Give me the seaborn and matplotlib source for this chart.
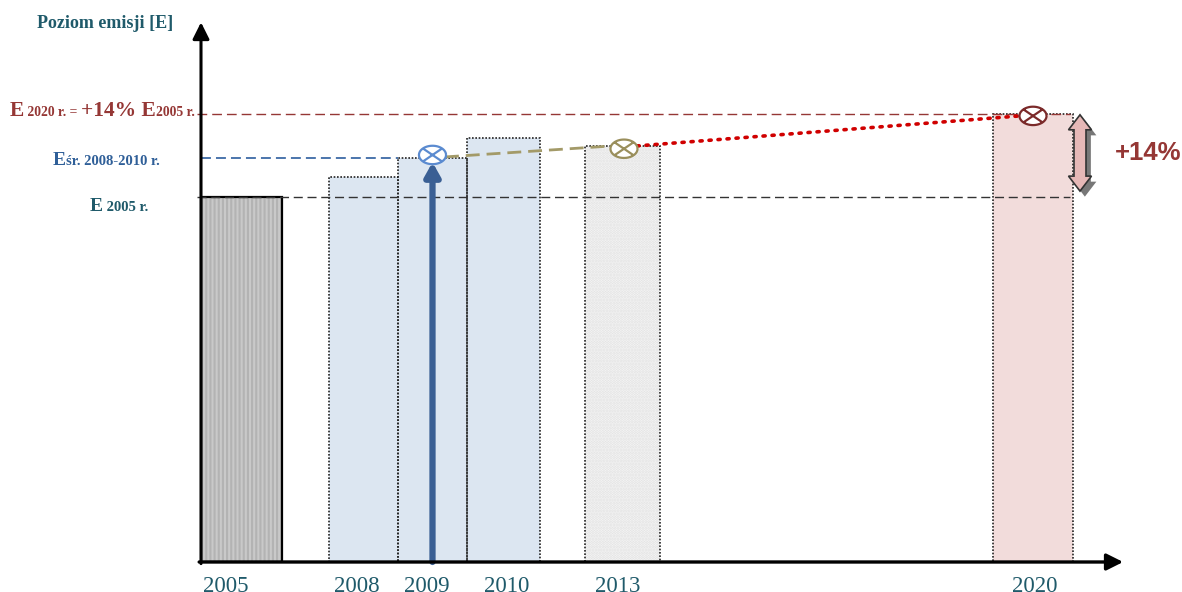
import matplotlib
matplotlib.use("Agg")
import matplotlib.pyplot as plt
import matplotlib.patheffects as pe
from matplotlib.path import Path
from matplotlib.markers import MarkerStyle
from matplotlib.patches import Polygon
import numpy as np
import seaborn as sns

# --- data (schematic emission levels, E2005 = 100) ---
years = ["2005", "2008", "2009", "2010", "2013", "2020"]
emissions = [100.0, 105.5, 110.7, 116.2, 114.0, 122.7]
e_2005 = emissions[0]
e_avg = np.mean(emissions[1:4])
e_2020 = emissions[-1]

point_x = [231.5, 423.0, 832.0]
point_y = [111.5, 113.2, 122.2]
trend_x = [244.0, 411.0]
trend_y = [110.96, 113.97]
target_x = [436.0, 819.0]
target_y = [113.97, 122.2]

# --- layout (px-based axis units) ---
bar_left = [0, 128, 197, 266, 384, 792]
bar_width = [81, 69, 69, 73, 75, 80]
label_pos = [25, 156, 226, 306, 417, 834]

TEAL = "#1f5a6a"
RED = "#953735"
BLUE = "#2f5f98"

sns.set_theme(style="white")
plt.rcParams["font.family"] = ["Liberation Serif", "DejaVu Serif"]
plt.rcParams["hatch.linewidth"] = 1.5

W, H = 1182, 592
fig = plt.figure(figsize=(W / 100, H / 100), dpi=100)
ax = fig.add_axes([201 / W, 30 / H, 924 / W, 537 / H])
YMAX = 147.1
PX_Y = YMAX / 537
ax.set_xlim(0, 924)
ax.set_ylim(0, YMAX)
for s in ax.spines.values():
    s.set_visible(False)
ax.set_yticks([])

# bars
face = ["#c9c9c9", "#dce6f1", "#dce6f1", "#dce6f1", "#f8f8f8", "#f2dcdb"]
hatch = ["||||", None, None, None, "......", None]
hatch_col = ["#b3b3b3", "none", "none", "none", "#e0e0e0", "none"]
for i in range(len(years)):
    ax.bar(bar_left[i], emissions[i], width=bar_width[i], align="edge",
           color=face[i], hatch=hatch[i], edgecolor=hatch_col[i], lw=0, zorder=1)
    if i == 0:
        ax.bar(bar_left[i], emissions[i], width=bar_width[i], align="edge",
               fill=False, edgecolor="black", lw=1.6, zorder=2)
    else:
        ax.bar(bar_left[i], emissions[i], width=bar_width[i], align="edge",
               fill=False, edgecolor="#222222", lw=1.2, ls=(0, (1, 1)), zorder=2)

# reference levels
ax.plot([-4, 869], [e_2020, e_2020], color=RED, lw=1, ls=(0, (7, 3.6)),
        clip_on=False, zorder=3)
ax.plot([0, 197], [e_avg, e_avg], color="#3d6aa6", lw=1.3, ls=(0, (5.5, 2.8)),
        clip_on=False, zorder=3)
ax.plot([-4, 869], [e_2005, e_2005], color="#333333", lw=1, ls=(0, (6.5, 3.4)),
        clip_on=False, zorder=3)

# trend lines
sns.lineplot(x=trend_x, y=trend_y, ax=ax, color="#a39a68", lw=2,
             ls=(0, (5, 2.5)), zorder=4)
sns.lineplot(x=target_x, y=target_y, ax=ax, color="#d00000", lw=2.6,
             ls=(0, (0.6, 1.9)), dash_capstyle="round", zorder=4)

# blue arrow up to the average level
ax.annotate("", xy=(point_x[0], point_y[0] - 2.0), xytext=(point_x[0], 0),
            arrowprops=dict(arrowstyle="-|>,head_width=0.45,head_length=0.8",
                            lw=4.5, color="#3a5f94", shrinkA=0, shrinkB=0,
                            mutation_scale=10), zorder=5)

# circle-cross markers
t = np.linspace(0, 2 * np.pi, 60)
a, b = 1.0, 0.68
c = np.cos(np.pi / 4)
verts = list(zip(a * np.cos(t), b * np.sin(t)))
verts += [(-a * c, -b * c), (a * c, b * c), (-a * c, b * c), (a * c, -b * c)]
codes = [Path.MOVETO] + [Path.LINETO] * 59 + [Path.MOVETO, Path.LINETO,
                                              Path.MOVETO, Path.LINETO]
otimes = MarkerStyle(Path(verts, codes))
sns.scatterplot(x=point_x, y=point_y, ax=ax, marker=otimes, s=380,
                facecolor="white", edgecolor=["#5b8bd0", "#9a8f5c", "#7b2a2a"],
                linewidth=1.6, zorder=6, legend=False)

# double arrow (+14%)
cx = 879
ytop, ybot = 122.5, 101.6
hw, sw, hl = 11.5, 6, 15 * PX_Y
arrow = [(cx, ytop), (cx + hw, ytop - hl), (cx + sw, ytop - hl), (cx + sw, ybot + hl),
         (cx + hw, ybot + hl), (cx, ybot), (cx - hw, ybot + hl), (cx - sw, ybot + hl),
         (cx - sw, ytop - hl), (cx - hw, ytop - hl)]
ax.add_patch(Polygon(arrow, closed=True, facecolor="#e6b8b7", edgecolor="#333333",
                     lw=1.2, zorder=5, clip_on=False,
                     path_effects=[pe.SimplePatchShadow(offset=(3.5, -4),
                                                        shadow_rgbFace="#777777",
                                                        alpha=1.0),
                                   pe.Normal()]))

# axes arrows
arrow_kw = dict(arrowstyle="-|>,head_width=0.5,head_length=1.0", color="black",
                shrinkA=0, shrinkB=0, mutation_scale=10)
ax.annotate("", xy=(0, 1.005), xytext=(0, -0.003), xycoords="axes fraction",
            arrowprops=dict(lw=2.2, **arrow_kw), annotation_clip=False, zorder=7)
ax.annotate("", xy=(0.998, 0), xytext=(-0.002, 0), xycoords="axes fraction",
            arrowprops=dict(lw=2.4, **arrow_kw), annotation_clip=False, zorder=7)

# year labels
ax.set_xticks(label_pos, years)
ax.tick_params(axis="x", length=0, pad=10, labelsize=16.5, labelcolor=TEAL)

# left labels
renderer = fig.canvas.get_renderer()


def chain(x, y, pieces, color):
    for text, size in pieces:
        tx = fig.text(x / W, 1 - y / H, text, fontsize=size, fontweight="bold",
                      color=color, va="baseline", ha="left")
        x += tx.get_window_extent(renderer).width


chain(37, 28, [("Poziom emisji [E]", 13)], TEAL)
chain(10, 116, [("E", 15.5), (" 2020 r. = ", 9.8), ("+14% E", 15.5),
                ("2005 r.", 9.8)], RED)
chain(53, 165, [("E", 14), ("śr. 2008-2010 r.", 10.5)], BLUE)
chain(90, 211, [("E", 14), (" 2005 r.", 10.5)], TEAL)

fig.text(1148 / W, 1 - 153 / H, "+14%", fontsize=18.5, fontweight="bold",
         color=RED, ha="center", va="center",
         family=["Liberation Sans", "DejaVu Sans"])

fig.savefig("out.png", dpi=100)
